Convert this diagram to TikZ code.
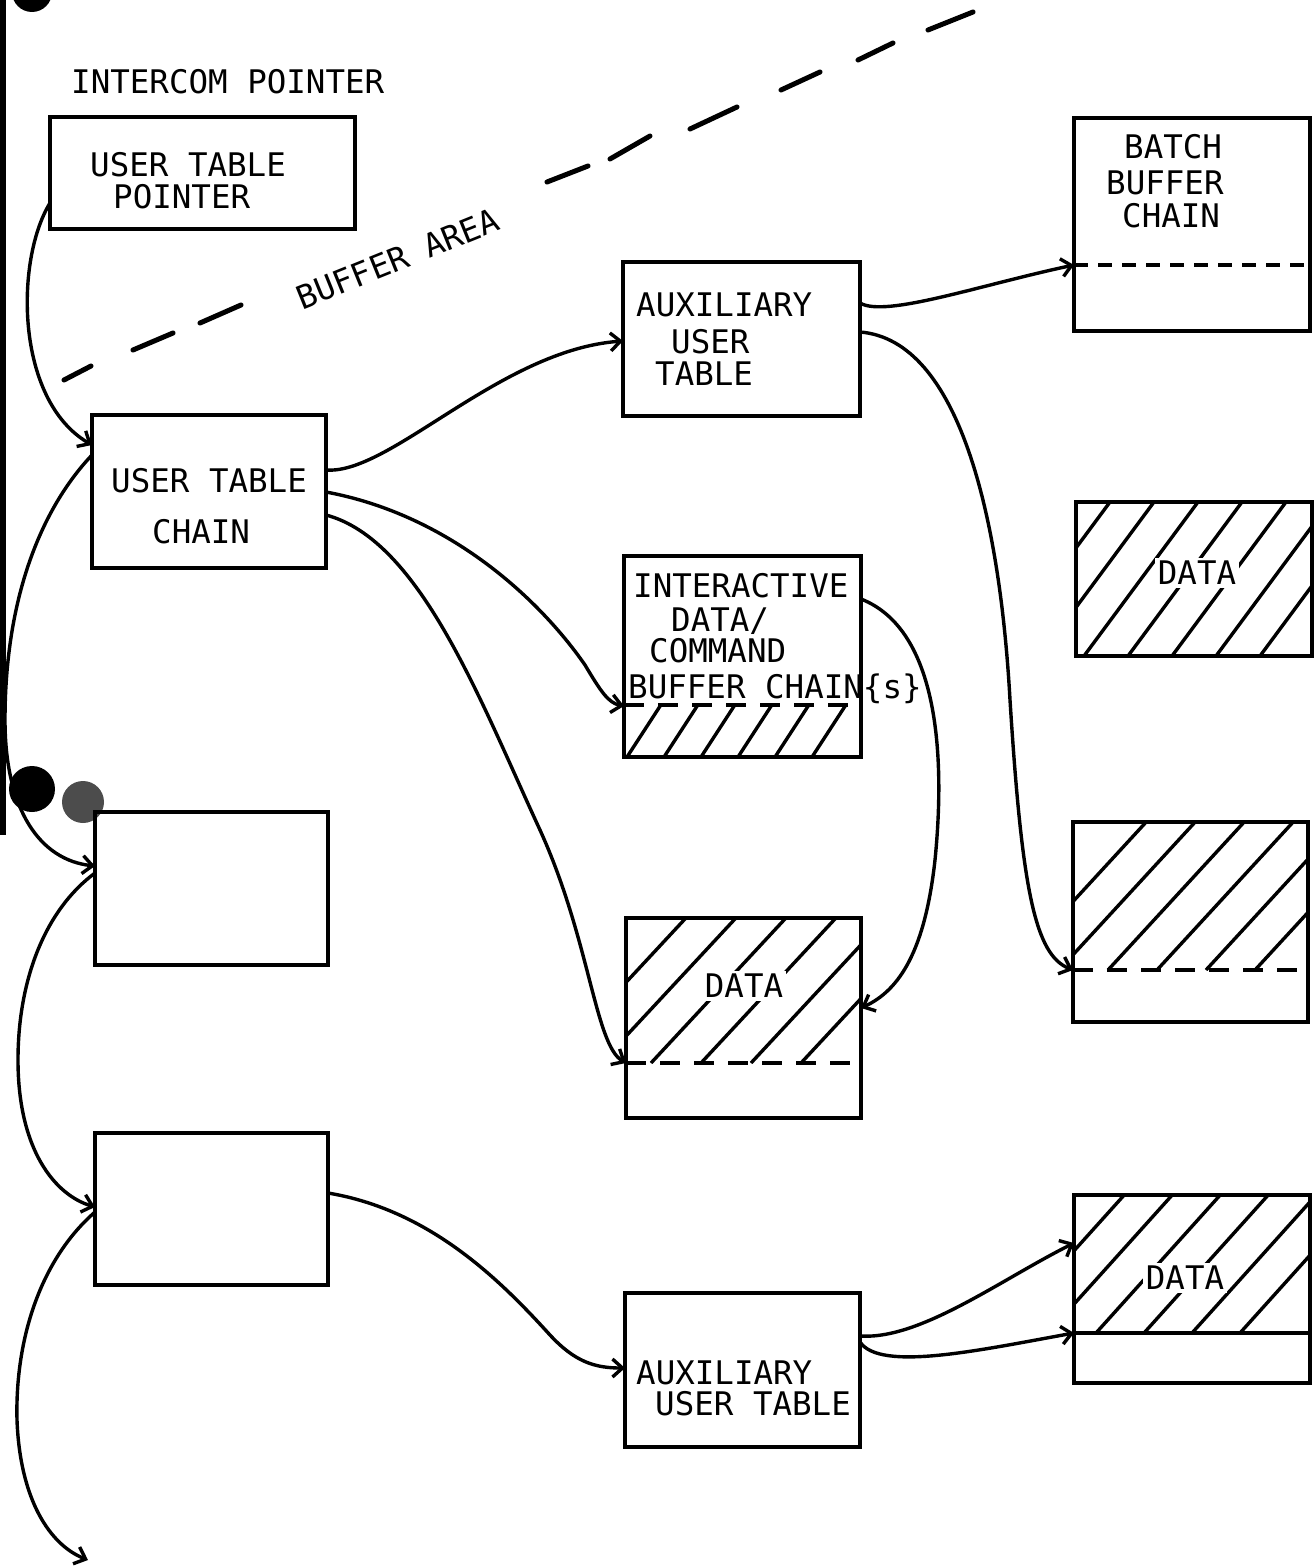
\documentclass[tikz,border=0pt]{standalone}
\usepackage{fontspec}
\newfontfamily\plotfont{DejaVu Sans Mono}
\usetikzlibrary{arrows.meta}
\newcommand\hatchbox[6]{%
  \begin{scope}
    \clip (#1,#2) rectangle (#3,#4);
    \foreach \c in {#6} {\draw[hatchln] (\c,#4) -- ++({#5*(#4-#2)},{-(#4-#2)});}
  \end{scope}}
\begin{document}
\begin{tikzpicture}[x=1pt,y=-1pt,
  box/.style={draw, line width=4.2pt, inner sep=0pt, outer sep=0pt, anchor=north west},
  lbl/.style={font=\plotfont\fontsize{32.5}{39}\selectfont, inner sep=0pt, anchor=base west},
  datalbl/.style={font=\plotfont\fontsize{32.5}{39}\selectfont, fill=white, inner sep=3pt},
  conn/.style={line width=3.4pt, line cap=round, line join=round, -{Straight Barb[length=10pt,width=18pt]}},
  hatchln/.style={line width=3.4pt},
  dashsep/.style={line width=3.4pt, dash pattern=on 20pt off 14pt},
  bufdash/.style={line width=5pt, line cap=round},
]
\useasboundingbox (0,0) rectangle (1314,1568);

% scan artifacts
\fill (0,0) rectangle (6,835);
\fill (32,-8) circle[radius=20pt];
\fill (32,789) circle[radius=23pt];
\fill[gray!60!black] (83,802) circle[radius=21pt];

% boxes
\node[box, minimum width=305pt, minimum height=112pt] (utp) at (50,117) {};
\node[box, minimum width=234pt, minimum height=153pt] (utc) at (92,415) {};
\node[box, minimum width=233pt, minimum height=153pt] (b3) at (95,812) {};
\node[box, minimum width=233pt, minimum height=152pt] (b4) at (95,1133) {};
\node[box, minimum width=237pt, minimum height=154pt] (auxt) at (623,262) {};
\node[box, minimum width=237pt, minimum height=201pt] (inter) at (624,556) {};
\node[box, minimum width=235pt, minimum height=200pt] (datam) at (626,918) {};
\node[box, minimum width=236pt, minimum height=213pt] (batch) at (1074,118) {};
\node[box, minimum width=236pt, minimum height=154pt] (datart) at (1076,502) {};
\node[box, minimum width=235pt, minimum height=200pt] (rmid) at (1073,822) {};
\node[box, minimum width=236pt, minimum height=188pt] (datarb) at (1074,1195) {};
\node[box, minimum width=235pt, minimum height=154pt] (auxb) at (625,1293) {};

% hatching
\hatchbox{624}{705}{861}{757}{0.65}{627,664,701,738,775,812}
\hatchbox{626}{918}{861}{1063}{0.93}{551,601,651,701,751,801}
\hatchbox{1076}{502}{1312}{656}{0.74}{996,1040,1084,1128,1172,1216,1260}
\hatchbox{1073}{822}{1308}{970}{0.92}{1010,1059,1108,1157,1206,1255}
\hatchbox{1074}{1195}{1310}{1333}{0.9}{1000,1048,1096,1144,1192,1240}

% separators inside boxes
\draw[line width=3.4pt, dash pattern=on 14pt off 10pt] (1074,265) -- (1310,265);
\draw[dashsep] (624,705) -- (861,705);
\draw[dashsep] (626,1063) -- (861,1063);
\draw[dashsep] (1073,970) -- (1308,970);
\draw[line width=3.4pt] (1074,1333) -- (1310,1333);

% buffer area boundary
\draw[bufdash] (64,380) -- (91,366);
\draw[bufdash] (133,350) -- (173,333);
\draw[bufdash] (200,323) -- (241,305);
\draw[bufdash] (547,182) -- (588,166);
\draw[bufdash] (610,159) -- (650,136);
\draw[bufdash] (690,129) -- (737,107);
\draw[bufdash] (781,90) -- (820,72);
\draw[bufdash] (858,60) -- (893,43);
\draw[bufdash] (928,30) -- (973,12);
\node[lbl, rotate=22, anchor=center] (bufarea) at (398,259) {BUFFER AREA};

% labels
\node[lbl] (icp) at (71,93.5) {INTERCOM POINTER};
\node[lbl] (utp1) at (90,176.5) {USER TABLE};
\node[lbl] (utp2) at (113,208.5) {POINTER};
\node[lbl] (utc1) at (111,492) {USER TABLE};
\node[lbl] (utc2) at (152,543) {CHAIN};
\node[lbl] (auxt1) at (636,316) {AUXILIARY};
\node[lbl] (auxt2) at (671,353) {USER};
\node[lbl] (auxt3) at (655,385) {TABLE};
\node[lbl] (int1) at (633,597) {INTERACTIVE};
\node[lbl] (int2) at (671,631) {DATA/};
\node[lbl] (int3) at (649,662) {COMMAND};
\node[lbl] (int4) at (628,698) {BUFFER CHAIN\{s\}};
\node[lbl] (bat1) at (1124,158) {BATCH};
\node[lbl] (bat2) at (1106,194) {BUFFER};
\node[lbl] (bat3) at (1122,227) {CHAIN};
\node[lbl] (auxb1) at (636,1384) {AUXILIARY};
\node[lbl] (auxb2) at (655,1415) {USER TABLE};
\node[datalbl] (dat1) at (1197,573) {DATA};
\node[datalbl] (dat2) at (744,986) {DATA};
\node[datalbl] (dat3) at (1185,1278) {DATA};

% connectors
\draw[conn] ([yshift=-86pt]utp.north west) .. controls (15,260) and (15,400) .. ([yshift=-30pt]utc.north west);
\draw[conn] ([yshift=-40pt]utc.north west) .. controls (40,510) and (5,600) .. (5,720) .. controls (5,810) and (40,860) .. ([yshift=-54pt]b3.north west);
\draw[conn] ([yshift=-61pt]b3.north west) .. controls (45,910) and (18,980) .. (18,1060) .. controls (18,1150) and (55,1195) .. ([yshift=-74pt]b4.north west);
\coordinate (offpage) at (88,1560);
\draw[conn] ([yshift=-79pt]b4.north west) .. controls (40,1260) and (15,1340) .. (17,1420) .. controls (20,1500) and (50,1545) .. (offpage);
\draw[conn] ([yshift=-55pt]utc.north east) .. controls (390,475) and (500,350) .. ([yshift=-79pt]auxt.north west);
\draw[conn] ([yshift=-77pt]utc.north east) .. controls (450,515) and (540,600) .. (585,665) .. controls (600,690) and (608,703) .. ([yshift=-150pt]inter.north west);
\draw[conn] ([yshift=-100pt]utc.north east) .. controls (420,540) and (480,700) .. (540,830) .. controls (590,940) and (595,1045) .. ([yshift=-145pt]datam.north west);
\draw[conn] ([yshift=-41pt]auxt.north east) .. controls (885,318) and (980,285) .. ([yshift=-147pt]batch.north west);
\draw[conn] ([yshift=-70pt]auxt.north east) .. controls (960,340) and (1000,520) .. (1010,700) .. controls (1022,890) and (1035,955) .. ([yshift=-148pt]rmid.north west);
\draw[conn] ([yshift=-43pt]inter.north east) .. controls (940,630) and (945,760) .. (935,860) .. controls (925,950) and (900,990) .. ([yshift=-90pt]datam.north east);
\draw[conn] ([yshift=-60pt]b4.north east) .. controls (430,1210) and (500,1280) .. (550,1335) .. controls (575,1362) and (595,1368) .. ([yshift=-75pt]auxb.north west);
\draw[conn] ([yshift=-43pt]auxb.north east) .. controls (920,1340) and (1000,1280) .. ([yshift=-48pt]datarb.north west);
\draw[conn] ([yshift=-49pt]auxb.north east) .. controls (880,1372) and (980,1350) .. ([yshift=-138pt]datarb.north west);
\end{tikzpicture}
\end{document}
